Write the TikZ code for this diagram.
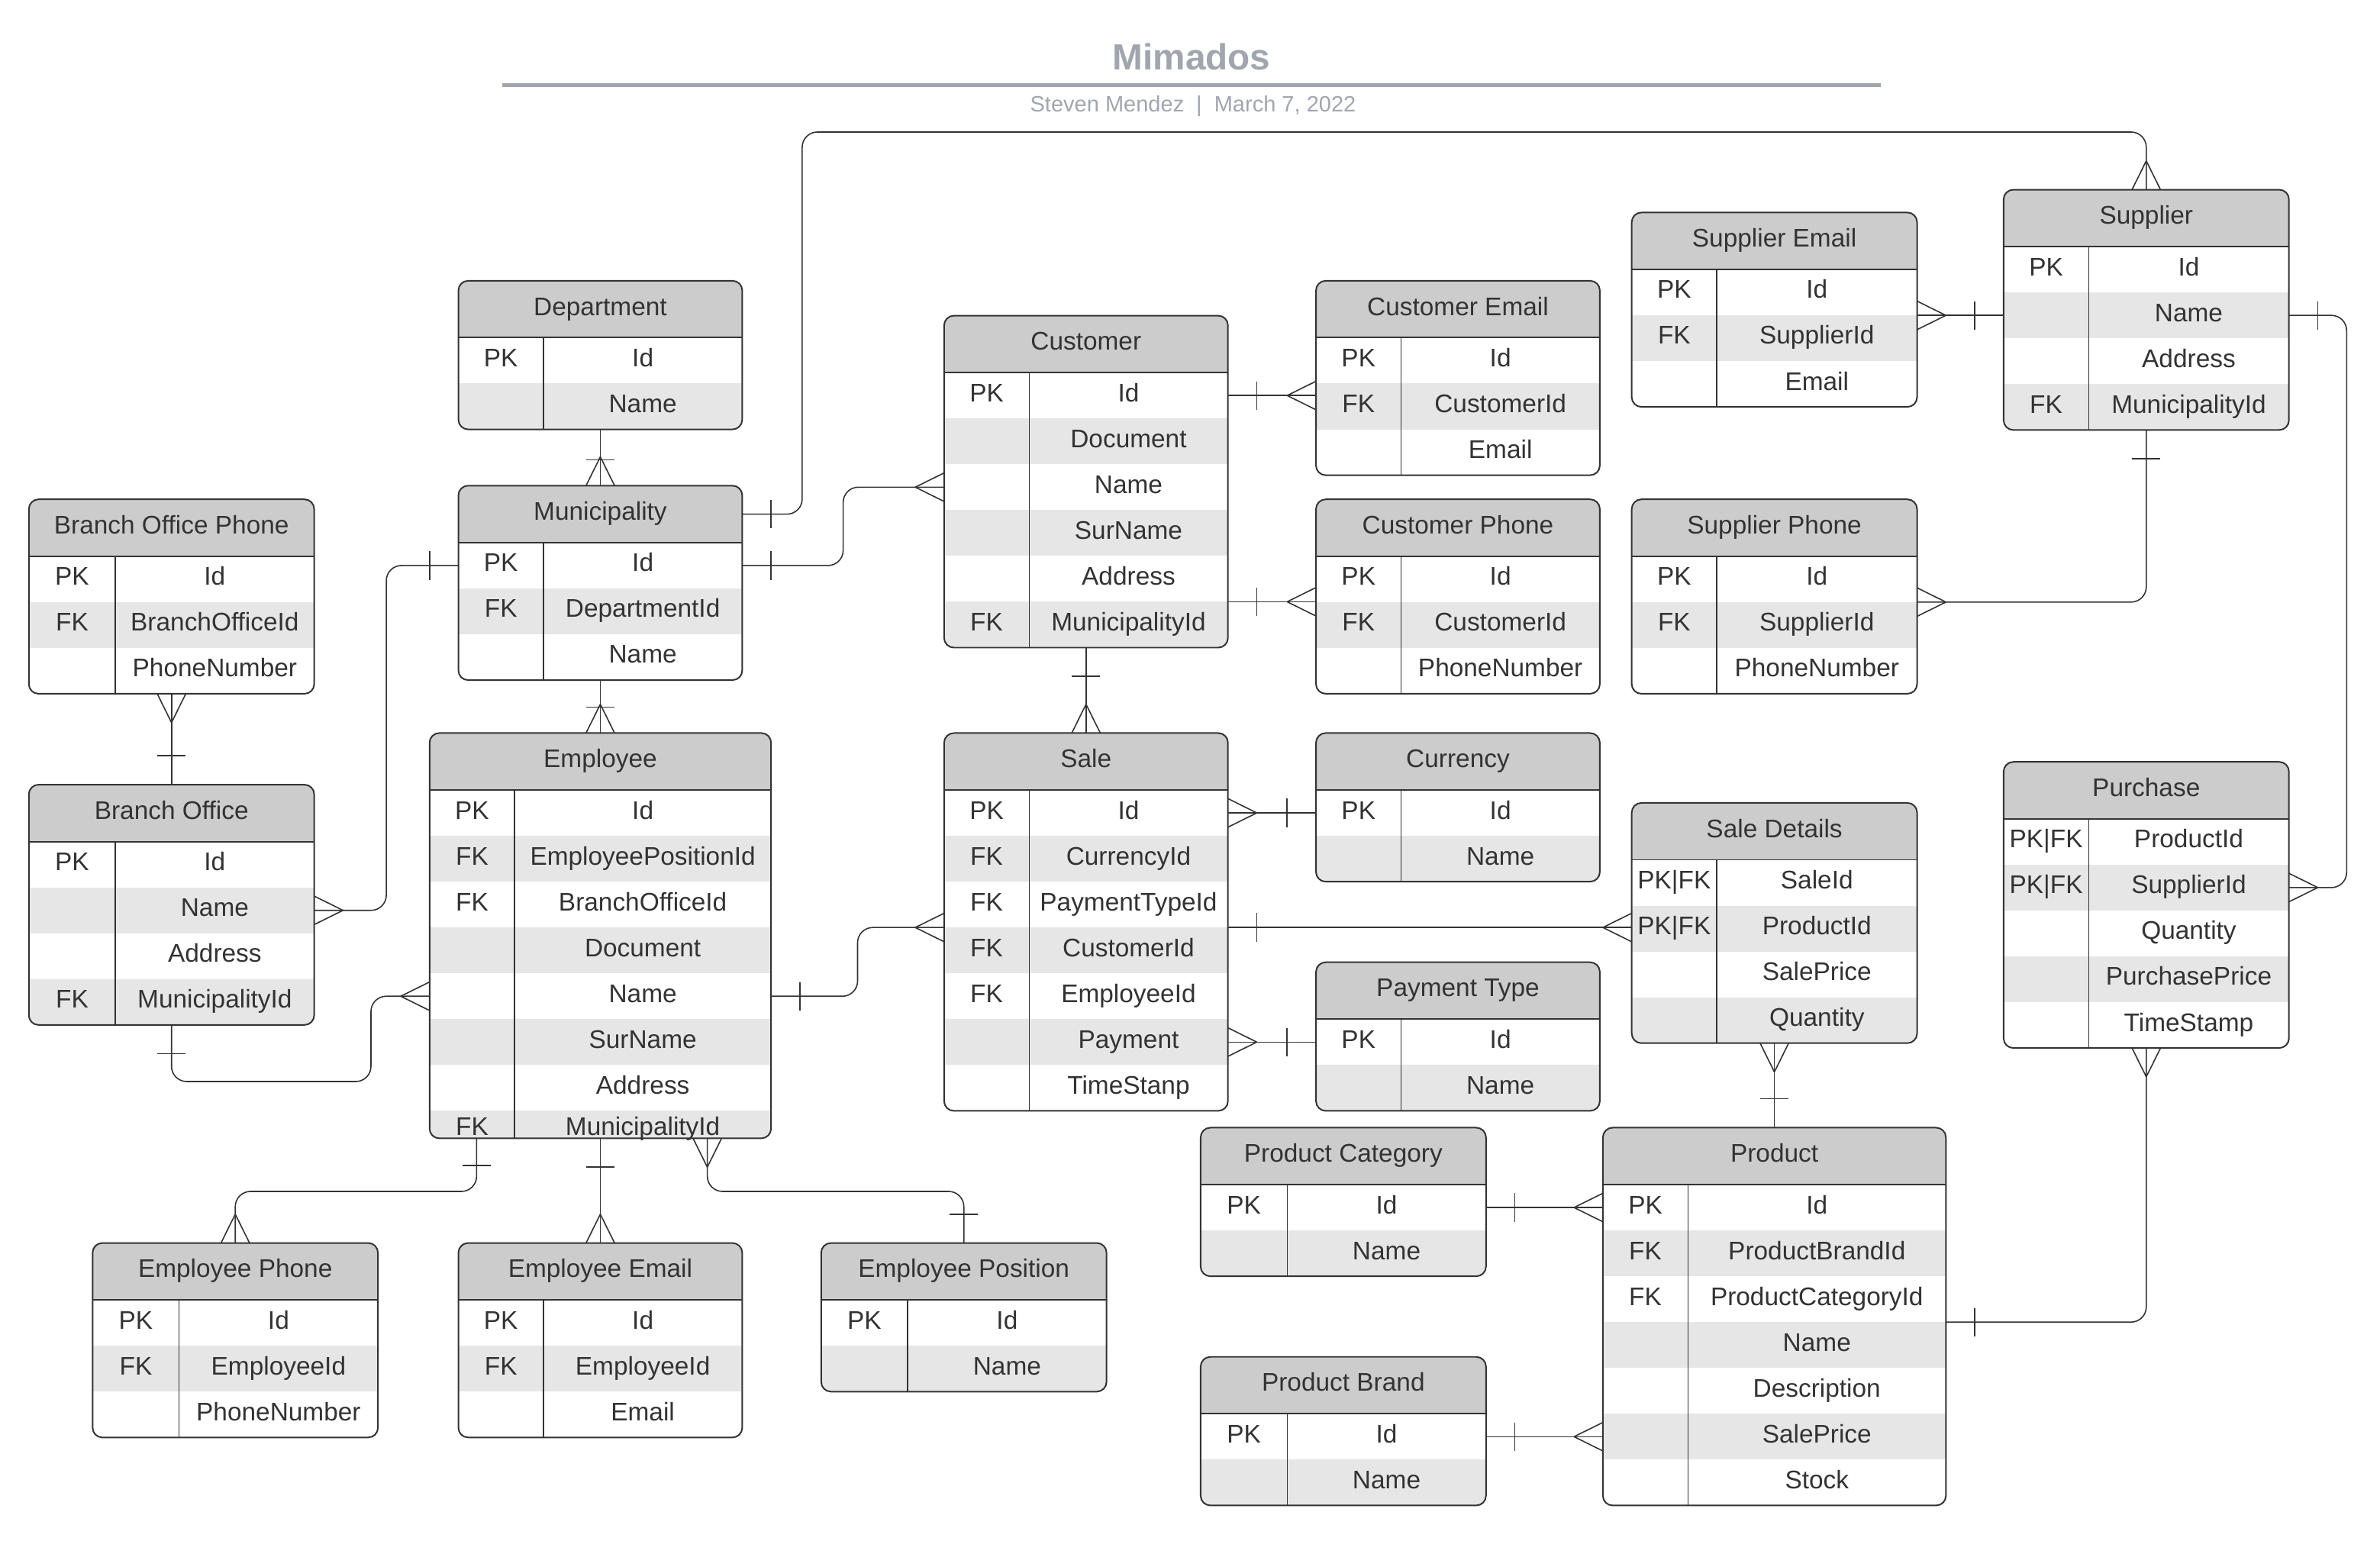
\documentclass[tikz,border=0pt]{standalone}
\usepackage{fontspec}
\setmainfont{Liberation Sans}
\usetikzlibrary{calc}
\definecolor{hdrfill}{HTML}{CCCCCC}
\definecolor{stripe}{HTML}{E6E6E6}
\definecolor{linec}{HTML}{333333}
\definecolor{txt}{HTML}{333333}
\definecolor{ttl}{HTML}{A1A6AE}
\tikzset{
  conn/.style={draw=linec, line width=0.4pt},
  rconn/.style={conn, rounded corners=5pt},
  tbl/.style={draw=linec, line width=0.5pt, rounded corners=3.2pt, inner sep=0pt, outer sep=0pt},
  cell/.style={text=txt, inner sep=0pt, text height=6pt, text depth=2pt, anchor=center},
  sepline/.style={draw=linec, line width=0.5pt},
  divline/.style={draw=linec, line width=0.35pt}
}
% #1 name, #2 x, #3 y, #4 width, #5 key width, #6 height, #7 title, #8 rows
\newcommand\erd[8]{%
  \begin{scope}
    \clip[rounded corners=3.2pt] (#2,#3) rectangle ++(#4,#6);
    \fill[white] (#2,#3) rectangle ++(#4,#6);
    \fill[hdrfill] (#2,#3) rectangle ++(#4,37.5);
    \foreach \k/\v [count=\i] in {#8} {
      \pgfmathsetmacro\ry{#3+37.5+(\i-1)*30.2}
      \ifodd\i\else \fill[stripe] (#2,\ry) rectangle ++(#4,30.2);\fi
    }
  \end{scope}
  \foreach \k/\v [count=\i] in {#8} {
    \pgfmathsetmacro\ty{min(#3+37.5+(\i-0.5)*30.2, #3+#6-6)}
    \node[cell] at ({#2+#5/2},\ty) {\k};
    \node[cell] at ({#2+#5+(#4-#5)/2},\ty) {\v};
  }
  \node[cell] at ({#2+#4/2},{#3+18.75}) {#7};
  \draw[sepline] (#2,{#3+37.5}) -- ({#2+#4},{#3+37.5});
  \draw[divline] ({#2+#5},{#3+37.5}) -- ({#2+#5},{#3+#6});
  \node[tbl, minimum width={#4*0.5pt}, minimum height={#6*0.5pt}, anchor=north west] (#1) at (#2,#3) {};
}
\newcommand\crowend[2]{\begin{scope}[shift={#1},rotate=#2]\draw[conn] (19,0) -- (0,9.4) (19,0) -- (0,-9.4);\end{scope}}
\newcommand\barend[3]{\begin{scope}[shift={#1},rotate=#2]\draw[conn] (#3,-9.4) -- (#3,9.4);\end{scope}}
\begin{document}
\begin{tikzpicture}[x=0.5pt,y=-0.5pt, font=\fontsize{8.4}{10}\selectfont]
\useasboundingbox[fill=white] (0,0) rectangle (1568,1015);
% title
\node[font=\bfseries\fontsize{12}{14}\selectfont, text=ttl, inner sep=0pt] (title) at (785,37.5) {Mimados};
\draw[draw=ttl, line width=1.1pt] (331,56) -- (1239,56);
\node[font=\fontsize{7.3}{9}\selectfont, text=ttl, inner sep=0pt] (subtitle) at (786,70) {Steven Mendez\hspace{0.55em}|\hspace{0.55em}March 7, 2022};
% tables
\erd{bop}{19}{329}{188}{57}{128.1}{Branch Office Phone}{PK/Id, FK/BranchOfficeId, /PhoneNumber}
\erd{bo}{19}{517}{188}{57}{158.3}{Branch Office}{PK/Id, /Name, /Address, FK/MunicipalityId}
\erd{dept}{302}{185}{187}{56}{97.9}{Department}{PK/Id, /Name}
\erd{muni}{302}{320}{187}{56}{128.1}{Municipality}{PK/Id, FK/DepartmentId, /Name}
\erd{emp}{283}{483}{225}{56}{267}{Employee}{PK/Id, FK/EmployeePositionId, FK/BranchOfficeId, /Document, /Name, /SurName, /Address, FK/MunicipalityId}
\erd{cust}{622}{208}{187}{56}{218.7}{Customer}{PK/Id, /Document, /Name, /SurName, /Address, FK/MunicipalityId}
\erd{cemail}{867}{185}{187}{56}{128.1}{Customer Email}{PK/Id, FK/CustomerId, /Email}
\erd{cphone}{867}{329}{187}{56}{128.1}{Customer Phone}{PK/Id, FK/CustomerId, /PhoneNumber}
\erd{semail}{1075}{140}{188}{56}{128.1}{Supplier Email}{PK/Id, FK/SupplierId, /Email}
\erd{supp}{1320}{125}{188}{56}{158.3}{Supplier}{PK/Id, /Name, /Address, FK/MunicipalityId}
\erd{sphone}{1075}{329}{188}{56}{128.1}{Supplier Phone}{PK/Id, FK/SupplierId, /PhoneNumber}
\erd{sale}{622}{483}{187}{56}{248.9}{Sale}{PK/Id, FK/CurrencyId, FK/PaymentTypeId, FK/CustomerId, FK/EmployeeId, /Payment, /TimeStanp}
\erd{curr}{867}{483}{187}{56}{97.9}{Currency}{PK/Id, /Name}
\erd{ptype}{867}{634}{187}{56}{97.9}{Payment Type}{PK/Id, /Name}
\erd{sdet}{1075}{529}{188}{56}{158.3}{Sale Details}{PK|FK/SaleId, PK|FK/ProductId, /SalePrice, /Quantity}
\erd{purch}{1320}{502}{188}{56}{188.5}{Purchase}{PK|FK/ProductId, PK|FK/SupplierId, /Quantity, /PurchasePrice, /TimeStamp}
\erd{pcat}{791}{743}{188}{57}{97.9}{Product Category}{PK/Id, /Name}
\erd{prod}{1056}{743}{226}{56}{248.9}{Product}{PK/Id, FK/ProductBrandId, FK/ProductCategoryId, /Name, /Description, /SalePrice, /Stock}
\erd{pbrand}{791}{894}{188}{57}{97.9}{Product Brand}{PK/Id, /Name}
\erd{ephone}{61}{819}{188}{57}{128.1}{Employee Phone}{PK/Id, FK/EmployeeId, /PhoneNumber}
\erd{eemail}{302}{819}{187}{56}{128.1}{Employee Email}{PK/Id, FK/EmployeeId, /Email}
\erd{epos}{541}{819}{188}{57}{97.9}{Employee Position}{PK/Id, /Name}
% connectors
% Department - Municipality
\draw[conn] (dept.south) -- (muni.north);
\crowend{(muni.north)}{90}\barend{(muni.north)}{90}{17}
% Municipality - Employee
\draw[conn] (muni.south) -- (emp.north);
\crowend{(emp.north)}{90}\barend{(emp.north)}{90}{17}
% Municipality - Customer
\coordinate (mcA) at ($(muni.north east)+(0,52.6)$);
\coordinate (mcB) at ($(cust.north west)+(0,113)$);
\draw[rconn] (mcA) -| ($(mcA)!.5!(mcB)$) |- (mcB);
\barend{(mcA)}{0}{19}\crowend{(mcB)}{180}
% Municipality - Supplier
\coordinate (msA) at ($(muni.north east)+(0,18.75)$);
\coordinate (msTop) at (528.5,87);
\draw[rconn] (msA) -| (msTop) -| (supp.north);
\barend{(msA)}{0}{19}\crowend{(supp.north)}{90}
% Municipality - Branch Office
\coordinate (mbA) at ($(muni.north west)+(0,52.6)$);
\coordinate (mbB) at ($(bo.north east)+(0,82.8)$);
\draw[rconn] (mbA) -| ($(mbA)!.5!(mbB)$) |- (mbB);
\barend{(mbA)}{180}{19}\crowend{(mbB)}{0}
% Branch Office Phone - Branch Office
\draw[conn] (bop.south) -- (bo.north);
\crowend{(bop.south)}{270}\barend{(bo.north)}{90}{19}
% Branch Office - Employee
\coordinate (beB) at ($(emp.north west)+(0,173.4)$);
\coordinate (beLow) at (244.4,712.6);
\draw[rconn] (bo.south) |- (beLow) |- (beB);
\barend{(bo.south)}{270}{19}\crowend{(beB)}{180}
% Employee - Sale
\coordinate (esA) at ($(emp.north east)+(0,173.4)$);
\coordinate (esB) at ($(sale.north west)+(0,128.1)$);
\draw[rconn] (esA) -| ($(esA)!.5!(esB)$) |- (esB);
\barend{(esA)}{0}{19}\crowend{(esB)}{180}
% Customer - Sale
\draw[conn] (cust.south) -- (sale.north);
\barend{(cust.south)}{270}{19}\crowend{(sale.north)}{90}
% Customer - Customer Email
\coordinate (ccA) at ($(cust.north east)+(0,52.6)$);
\draw[conn] (ccA) -- (ccA -| cemail.west);
\barend{(ccA)}{0}{19}\crowend{(ccA -| cemail.west)}{180}
% Customer - Customer Phone
\coordinate (cpA) at ($(cust.north east)+(0,188.5)$);
\draw[conn] (cpA) -- (cpA -| cphone.west);
\barend{(cpA)}{0}{19}\crowend{(cpA -| cphone.west)}{180}
% Sale - Currency
\coordinate (scA) at ($(sale.north east)+(0,52.6)$);
\draw[conn] (scA) -- (scA -| curr.west);
\crowend{(scA)}{0}\barend{(scA -| curr.west)}{180}{19}
% Sale - Payment Type
\coordinate (spA) at ($(sale.north east)+(0,203.6)$);
\draw[conn] (spA) -- (spA -| ptype.west);
\crowend{(spA)}{0}\barend{(spA -| ptype.west)}{180}{19}
% Sale - Sale Details
\coordinate (sdA) at ($(sale.north east)+(0,128.1)$);
\draw[conn] (sdA) -- (sdA -| sdet.west);
\barend{(sdA)}{0}{19}\crowend{(sdA -| sdet.west)}{180}
% Supplier Email - Supplier
\coordinate (seA) at ($(supp.north west)+(0,82.8)$);
\draw[conn] (seA -| semail.east) -- (seA);
\crowend{(seA -| semail.east)}{0}\barend{(seA)}{180}{19}
% Supplier - Supplier Phone
\coordinate (sphB) at ($(sphone.north east)+(0,67.7)$);
\draw[rconn] (supp.south) |- (sphB);
\barend{(supp.south)}{270}{19}\crowend{(sphB)}{0}
% Supplier - Purchase
\coordinate (suA) at ($(supp.north east)+(0,82.8)$);
\coordinate (suB) at ($(purch.north east)+(0,82.8)$);
\coordinate (suR) at ($(suA)+(38,0)$);
\draw[rconn] (suA) -- (suR) |- (suB);
\barend{(suA)}{0}{19}\crowend{(suB)}{0}
% Sale Details - Product
\draw[conn] (sdet.south) -- (prod.north);
\crowend{(sdet.south)}{270}\barend{(prod.north)}{90}{19}
% Product - Purchase
\coordinate (ppA) at ($(prod.north east)+(0,128.1)$);
\draw[rconn] (ppA) -| (purch.south);
\barend{(ppA)}{0}{19}\crowend{(purch.south)}{270}
% Product Category - Product
\coordinate (pcA) at ($(pcat.north east)+(0,52.6)$);
\draw[conn] (pcA) -- (pcA -| prod.west);
\barend{(pcA)}{0}{19}\crowend{(pcA -| prod.west)}{180}
% Product Brand - Product
\coordinate (pbA) at ($(pbrand.north east)+(0,52.6)$);
\draw[conn] (pbA) -- (pbA -| prod.west);
\barend{(pbA)}{0}{19}\crowend{(pbA -| prod.west)}{180}
% Employee - Employee Phone
\coordinate (epA) at ($(emp.south west)+(31,0)$);
\coordinate (ebus) at ($(emp.south)+(0,35)$);
\draw[rconn] (epA) |- (ebus -| ephone.north) -- (ephone.north);
\barend{(epA)}{270}{18}\crowend{(ephone.north)}{90}
% Employee - Employee Email
\draw[conn] (emp.south) -- (eemail.north);
\barend{(emp.south)}{270}{19}\crowend{(eemail.north)}{90}
% Employee - Employee Position
\coordinate (eposA) at ($(emp.south west)+(183,0)$);
\draw[rconn] (eposA) |- (ebus -| epos.north) -- (epos.north);
\crowend{(eposA)}{270}\barend{(epos.north)}{90}{19}
\end{tikzpicture}
\end{document}
